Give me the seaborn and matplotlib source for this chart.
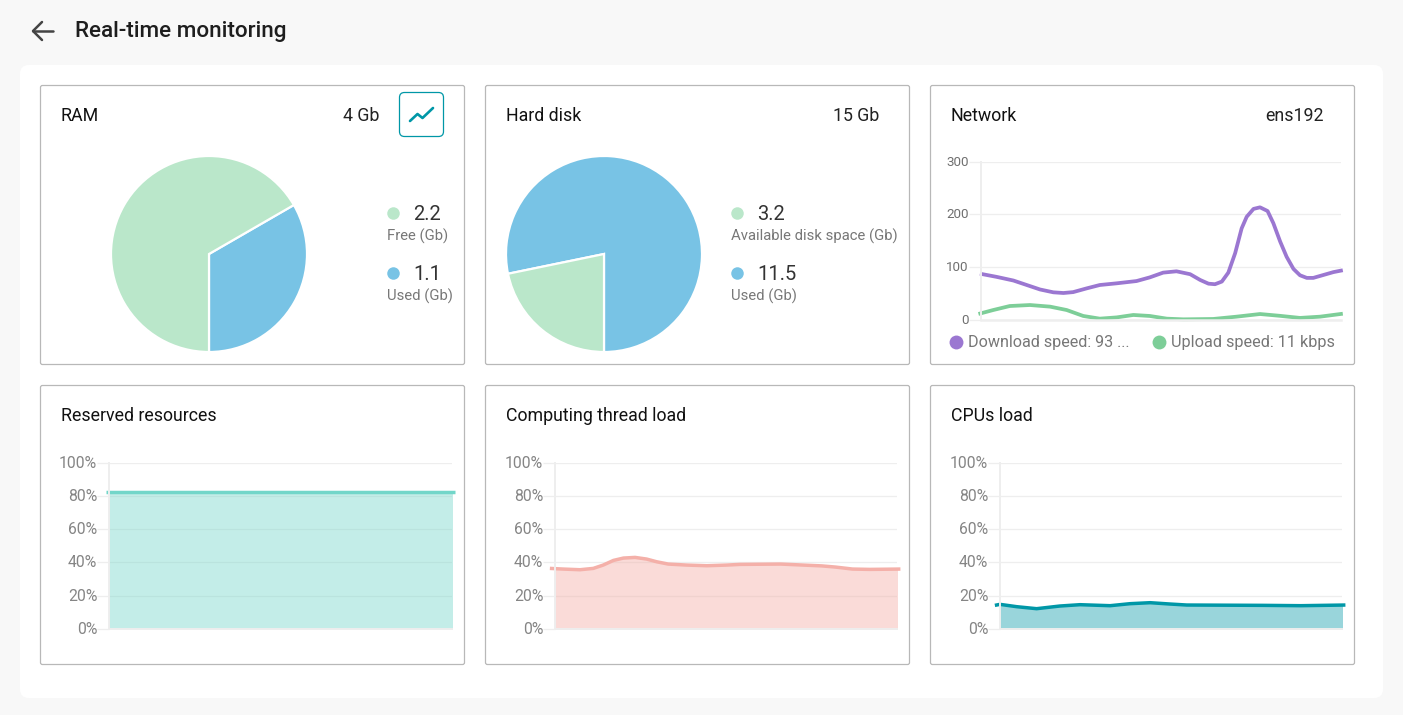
import numpy as np
import matplotlib
matplotlib.use('Agg')
import matplotlib.pyplot as plt
from matplotlib.patches import FancyBboxPatch
from matplotlib.transforms import ScaledTranslation
import seaborn as sns

W, H = 1403, 715

# Pie values (Gb)
ram_labels = ['Free (Gb)', 'Used (Gb)']
ram_values = [2.2, 1.1]
disk_labels = ['Available disk space (Gb)', 'Used (Gb)']
disk_values = [3.2, 11.5]

# Network, time as % of the window
net_down_t = [-0.3, 4.3, 9, 12.7, 16.4, 20.1, 22.9, 25.6, 29.3, 33, 37.7, 43.2, 46.9, 50.6, 54.3,
              58.1, 60.9, 63.2, 65, 66.9, 68.7, 70.6, 72.4, 73.8, 75.7, 77.5, 79.6, 81.2, 83.1,
              84.9, 86.8, 88.6, 90.5, 92.3, 95.1, 97.9, 100.5]
net_down = [87, 81, 74, 65.5, 57, 51.6, 50.3, 52, 59, 65.5, 68.7, 73, 80, 89, 91.5,
            86, 75, 68, 67, 72, 89, 126, 173, 195, 210, 213, 206, 183, 148,
            119, 96, 84, 79, 79, 84.5, 90, 93.5]
net_up_t = [-0.7, 3.4, 8, 13.6, 19.2, 23.8, 28.4, 33, 37.7, 42.3, 46.9, 51.6, 56.2,
            64.5, 71, 77.5, 83, 88.6, 94.2, 100.5]
net_up = [10.5, 18, 25.6, 27.5, 24.4, 18, 6.7, 1.6, 4, 8.6, 6.7, 1.6, 0.3,
          1, 5.4, 10.4, 7, 3, 5.4, 11]
net_ticks = [0, 100, 200, 300]

# Load charts, time as % of the window
reserved_t = [-1, 101]
reserved = [82, 82]
thread_t = [-1.5, 2.4, 7.3, 11.2, 14.1, 17.1, 20, 23.4, 26.8, 29.7, 33.1, 38.5, 44.4, 50.2, 54.1,
            66, 78, 82, 87, 92, 101]
thread = [36.4, 36, 35.6, 36.4, 38.4, 41.2, 42.6, 43, 42, 40.4, 39, 38.4, 38, 38.4, 38.8,
          39, 37.9, 37.2, 36, 35.8, 36]
cpu_t = [-1.5, 0, 4.9, 10.7, 17.5, 23.4, 32.2, 38, 43.9, 49.7, 54.6, 77, 88, 101]
cpu = [14.2, 14.8, 13.4, 12.2, 13.8, 14.6, 14, 15.2, 15.8, 15, 14.4, 14.2, 14, 14.4]
pct_ticks = [0, 20, 40, 60, 80, 100]

GRID = '#EEEEEE'
GREEN = '#BAE7CA'
BLUE = '#78C3E5'

sns.set_theme(style='white')
plt.rcParams['font.family'] = ['Roboto', 'DejaVu Sans']


def px_axes(x0, y0, x1, y1, **kw):
    return fig.add_axes([x0 / W, 1 - y1 / H, (x1 - x0) / W, (y1 - y0) / H], **kw)


def style_chart(ax, ticks, labels, size, color, length):
    ax.set_facecolor('none')
    ax.set_yticks(ticks, labels)
    ax.set_xticks([])
    ax.grid(axis='y', color=GRID, linewidth=0.9)
    ax.set_axisbelow(True)
    for side in ['top', 'right']:
        ax.spines[side].set_visible(False)
    for side in ['left', 'bottom']:
        ax.spines[side].set_color(GRID)
        ax.spines[side].set_linewidth(1.4)
    ax.tick_params(axis='y', length=length, width=0.9, color=GRID, labelsize=size, labelcolor=color, pad=0, left=True)
    ax.set_xlabel('')
    ax.set_ylabel('')
    # labels sit a pixel above their gridline
    up = ScaledTranslation(0, 1 / 100, fig.dpi_scale_trans)
    for lab in ax.get_yticklabels():
        lab.set_transform(lab.get_transform() + up)


def load_chart(box, t, vals, line, alpha):
    ax = px_axes(*box)
    ax.fill_between(t, vals, 0, color=line, alpha=alpha, linewidth=0)
    sns.lineplot(x=t, y=vals, ax=ax, color=line, linewidth=2.5, clip_on=False, estimator=None,
                 solid_joinstyle='round', solid_capstyle='butt')
    ax.set_xlim(0, 100)
    ax.set_ylim(0, 100)
    style_chart(ax, pct_ticks, [f'{p}%' for p in pct_ticks], 11.3, '#858585', 8.5)


def pie_chart(box, values):
    ax = px_axes(*box)
    # used share first, going counter-clockwise from 6 o'clock
    ax.pie(values[::-1], colors=[BLUE, GREEN], startangle=-90, radius=1,
           wedgeprops={'edgecolor': 'white', 'linewidth': 1.6})
    ax.set_xlim(-1, 1)
    ax.set_ylim(-1, 1)


def pie_legend(x, labels, values):
    for y, label, val, col in zip([213, 273], labels, values, [GREEN, BLUE]):
        bg.plot(x, y, 'o', color=col, markersize=9, markeredgewidth=0)
        bg.text(x + 20, y + 1, f'{val}', fontsize=14.5, color='#333333', va='center')
        bg.text(x - 6, y + 23, label, fontsize=10.7, color='#777777', va='center')


fig = plt.figure(figsize=(W / 100, H / 100), dpi=100, facecolor='#F8F8F8')

# page chrome drawn in pixel coordinates
bg = fig.add_axes([0, 0, 1, 1])
bg.set_xlim(0, W)
bg.set_ylim(H, 0)
bg.axis('off')
bg.add_patch(FancyBboxPatch((20, 65), 1363, 633, boxstyle='round,pad=0,rounding_size=9', facecolor='white',
                            edgecolor='none'))
bg.plot([33, 53], [31, 31], color='#444444', lw=1.8)
bg.plot([42, 33, 42], [22, 31, 40], color='#444444', lw=1.8)
bg.text(75, 31, 'Real-time monitoring', fontsize=16.2, fontweight=500, color='#1E1E1E', va='center')

panels = [(40, 85), (485, 85), (930, 85), (40, 385), (485, 385), (930, 385)]
titles = ['RAM', 'Hard disk', 'Network', 'Reserved resources', 'Computing thread load', 'CPUs load']
for (px, py), title in zip(panels, titles):
    bg.add_patch(FancyBboxPatch((px + 0.5, py + 0.5), 424, 279, boxstyle='round,pad=0,rounding_size=2',
                                facecolor='white', edgecolor='#B8B8B8', linewidth=0.9))
    bg.text(px + 21, py + 31, title, fontsize=12.75, color='#111111', va='center')

bg.text(379, 116, '4 Gb', fontsize=12.75, color='#222222', va='center', ha='right')
bg.text(879, 116, '15 Gb', fontsize=12.75, color='#222222', va='center', ha='right')
bg.text(1324, 116, 'ens192', fontsize=12.75, color='#222222', va='center', ha='right')

# trend button
bg.add_patch(FancyBboxPatch((399.5, 92.5), 44, 44, boxstyle='round,pad=0,rounding_size=5', facecolor='white',
                            edgecolor='#0097A7', linewidth=0.9))
bg.plot([410, 417.5, 422.5, 433], [121, 114, 118, 108], color='#0097A7', lw=1.9)

pie_chart((111, 156, 307, 352), ram_values)
pie_chart((506, 156, 702, 352), disk_values)
pie_legend(393, ram_labels, ram_values)
pie_legend(737, disk_labels, disk_values)

# network chart
net = px_axes(981, 161.5, 1341, 319.5)
sns.lineplot(x=net_down_t, y=net_down, ax=net, color='#9B77D1', linewidth=2.7, clip_on=False, estimator=None,
             solid_joinstyle='round', solid_capstyle='butt')
sns.lineplot(x=net_up_t, y=net_up, ax=net, color='#7DCE98', linewidth=2.7, clip_on=False, estimator=None,
             solid_joinstyle='round', solid_capstyle='butt')
net.set_xlim(0, 100)
net.set_ylim(0, 300)
style_chart(net, net_ticks, [str(v) for v in net_ticks], 9.6, '#6F6F6F', 9)
net.spines['bottom'].set_linewidth(1.8)

bg.plot(955.5, 342, 'o', color='#9B77D1', markersize=10, markeredgewidth=0)
bg.text(968, 342, 'Download speed: 93 ...', fontsize=11.6, color='#777777', va='center')
bg.plot(1158.5, 342, 'o', color='#7DCE98', markersize=10, markeredgewidth=0)
bg.text(1171, 342, 'Upload speed: 11 kbps', fontsize=11.7, color='#777777', va='center')

load_chart((109, 462.5, 452, 629), reserved_t, reserved, '#72D6C9', 0.42)
load_chart((555, 462.5, 897, 629), thread_t, thread, '#F4B0A9', 0.45)
load_chart((1000, 462.5, 1342, 629), cpu_t, cpu, '#0097A7', 0.4)

fig.savefig('out.png', dpi=100, facecolor=fig.get_facecolor())
